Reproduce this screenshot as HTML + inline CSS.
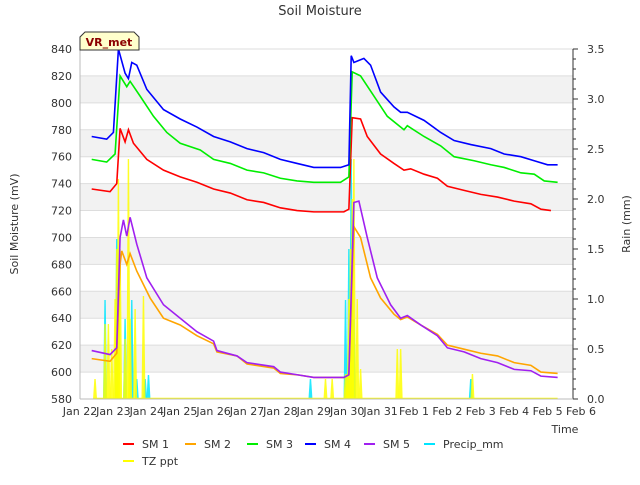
<!DOCTYPE html>
<html><head><meta charset="utf-8"><style>
body{margin:0;background:#fff;font-family:"Liberation Sans","DejaVu Sans",sans-serif}
svg text{font-family:"DejaVu Sans","Liberation Sans",sans-serif}
</style></head><body>
<svg id="c" width="640" height="480" xmlns="http://www.w3.org/2000/svg">
<text x="320" y="15" text-anchor="middle" font-size="13" fill="#333">Soil Moisture</text>
<g id="bands"></g><g id="grid"></g><g id="rain"></g><g id="lines"></g><g id="axes"></g>
<text transform="translate(18,224) rotate(-90)" text-anchor="middle" font-size="11" fill="#333">Soil Moisture (mV)</text>
<text transform="translate(630,224) rotate(-90)" text-anchor="middle" font-size="11" fill="#333">Rain (mm)</text>
<text x="565" y="433" text-anchor="middle" font-size="11" fill="#333">Time</text>
<g><path d="M80,50 L80,37 L85,32 L134,32 L139,37 L139,50 Z" fill="#ffffcc" stroke="#333"/><text x="109" y="46" text-anchor="middle" font-size="11" font-weight="bold" fill="#8b0000">VR_met</text></g>
<g id="legend"></g>
</svg>
<script>
const sm1=[[0.35,736],[0.9,734],[1.1,740],[1.2,781],[1.35,771],[1.45,780],[1.6,770],[2,758],[2.5,750],[3,745],[3.5,741],[4,736],[4.5,733],[5,728],[5.5,726],[6,722],[6.5,720],[7,719],[7.9,719],[8.05,721],[8.15,789],[8.4,788],[8.6,775],[9,762],[9.4,755],[9.7,750],[9.9,751],[10.3,747],[10.7,744],[11,738],[11.5,735],[12,732],[12.5,730],[13,727],[13.5,725],[13.8,721],[14.1,720]];
const sm2=[[0.35,610],[0.9,608],[1.1,614],[1.2,680],[1.25,690],[1.4,680],[1.5,688],[1.7,675],[2.1,655],[2.5,640],[3,635],[3.5,627],[4,621],[4.1,615],[4.7,612],[5,606],[5.8,603],[6,599],[6.5,598],[7,596],[7.9,596],[8.05,598],[8.2,708],[8.4,700],[8.7,670],[9,655],[9.4,643],[9.6,639],[9.8,641],[10.2,635],[10.7,628],[11,620],[11.5,617],[12,614],[12.5,612],[13,607],[13.5,605],[13.8,600],[14.3,599]];
const sm3=[[0.35,758],[0.8,756],[1.05,762],[1.2,820],[1.4,812],[1.5,816],[1.8,805],[2.2,790],[2.6,778],[3,770],[3.6,765],[4,758],[4.5,755],[5,750],[5.5,748],[6,744],[6.5,742],[7,741],[7.8,741],[8.05,745],[8.15,823],[8.4,820],[8.8,805],[9.2,790],[9.7,780],[9.8,783],[10.3,775],[10.8,768],[11.2,760],[11.8,757],[12.3,754],[12.7,752],[13.2,748],[13.6,747],[13.9,742],[14.3,741]];
const sm4=[[0.35,775],[0.8,773],[1.0,778],[1.15,840],[1.35,822],[1.45,818],[1.55,830],[1.7,828],[2,810],[2.5,795],[3,788],[3.5,782],[4,775],[4.5,771],[5,766],[5.5,763],[6,758],[6.5,755],[7,752],[7.8,752],[8.05,754],[8.12,835],[8.2,830],[8.4,832],[8.5,833],[8.7,828],[9,808],[9.4,797],[9.6,793],[9.8,793],[10.3,787],[10.8,778],[11.2,772],[11.7,769],[12.3,766],[12.7,762],[13.2,760],[13.6,757],[14,754],[14.3,754]];
const sm5=[[0.35,616],[0.9,613],[1.1,618],[1.2,700],[1.3,713],[1.4,701],[1.5,715],[1.7,695],[2,670],[2.5,650],[3,640],[3.5,630],[4,623],[4.1,616],[4.7,612],[5,607],[5.8,604],[6,600],[6.5,598],[7,596],[7.9,596],[8.05,598],[8.2,726],[8.35,727],[8.6,700],[8.9,670],[9.3,650],[9.6,640],[9.8,642],[10.2,635],[10.7,627],[11,618],[11.5,615],[12,610],[12.5,607],[13,602],[13.5,601],[13.8,597],[14.3,596]];
const tzppt=[[0.45,0.2],[0.75,0.75],[0.85,0.75],[0.95,0.5],[1.05,1.0],[1.1,1.5],[1.15,2.2],[1.2,1.5],[1.35,0.6],[1.45,2.4],[1.5,0.8],[1.65,0.9],[1.9,1.03],[7.35,0.2],[7.55,0.2],[7.95,0.25],[8.0,0.25],[8.05,1.0],[8.1,1.5],[8.15,2.0],[8.2,2.4],[8.3,1.0],[8.4,0.3],[9.5,0.5],[9.6,0.5],[11.75,0.25]];
const precip=[[0.75,0.99],[1.1,1.6],[1.35,0.8],[1.55,0.99],[1.7,0.2],[1.95,0.2],[2.05,0.24],[6.9,0.2],[7.95,0.99],[8.05,1.5],[8.12,2.4],[8.2,0.8],[11.7,0.2]];
const xLabels=["Jan 22","Jan 23","Jan 24","Jan 25","Jan 26","Jan 27","Jan 28","Jan 29","Jan 30","Jan 31","Feb 1","Feb 2","Feb 3","Feb 4","Feb 5","Feb 6"];
const yTicks=[580,600,620,640,660,680,700,720,740,760,780,800,820,840];
const y2Ticks=[0,0.5,1,1.5,2,2.5,3,3.5];
const L=80,R=573,T=49,B=399,NS="http://www.w3.org/2000/svg";
const X=d=>L+d*33.4, Y=v=>B-(v-580)/260*(B-T), Y2=v=>B-v/3.5*(B-T);
function mk(p,t,a){const e=document.createElementNS(NS,t);for(const k in a)e.setAttribute(k,a[k]);document.getElementById(p).appendChild(e);return e;}
for(let i=0;i<yTicks.length-1;i++){if(i%2==1){const r=mk('bands','rect',{x:L,y:Y(yTicks[i+1]),width:R-L,height:Y(yTicks[i])-Y(yTicks[i+1]),fill:'#f2f2f2'});

}}
yTicks.forEach(v=>{const g=mk('grid','line',{x1:L,x2:R,y1:Y(v),y2:Y(v),stroke:'#ddd'});


const t=mk('axes','text',{x:L-8,y:Y(v)+4,'text-anchor':'end','font-size':11,fill:'#333'});t.textContent=v;

});
y2Ticks.forEach(v=>{const t=mk('axes','text',{x:R+14,y:Y2(v)+4,'font-size':11,fill:'#333'});t.textContent=v.toFixed(1);


mk('axes','line',{x1:R,x2:R+5,y1:Y2(v),y2:Y2(v),stroke:'#333'});});
for(let v=0.1;v<3.5;v+=0.1)mk('axes','line',{x1:R,x2:R+3,y1:Y2(v),y2:Y2(v),stroke:'#333'});
xLabels.forEach((s,i)=>{const t=mk('axes','text',{x:X(i),y:B+16,'text-anchor':'middle','font-size':11,fill:'#333'});t.textContent=s;

});
mk('axes','line',{x1:L,x2:L,y1:T,y2:B,stroke:'#bbb'});mk('axes','line',{x1:R,x2:R,y1:T,y2:B,stroke:'#333'});mk('axes','line',{x1:L,x2:R,y1:B,y2:B,stroke:'#bbb'});
function spikes(arr,col,name){arr.forEach(([d,v])=>{const e=mk('rain','path',{d:`M${X(d)-2},${B} L${X(d)-0.7},${Y2(v)} L${X(d)+0.7},${Y2(v)} L${X(d)+2},${B}`,fill:col,'fill-opacity':0.85});

});}
spikes(precip,'#00e5ff','precip-bar');spikes(tzppt,'#ffff00','tz-ppt-bar');
mk('rain','line',{x1:X(0.4),x2:X(14.3),y1:B-0.5,y2:B-0.5,stroke:'#ffff00','stroke-width':1.5});
function line(arr,col,name){const p=mk('lines','polyline',{points:arr.map(([d,v])=>X(d)+','+Y(v)).join(' '),fill:'none',stroke:col,'stroke-width':1.6});

}
line(sm2,'#ffa500','sm2-line');line(sm5,'#a020f0','sm5-line');line(sm1,'#ff0000','sm1-line');line(sm3,'#00ee00','sm3-line');line(sm4,'#0000ff','sm4-line');
const leg=[["SM 1","#ff0000",123,444],["SM 2","#ffa500",185,444],["SM 3","#00ee00",247,444],["SM 4","#0000ff",305,444],["SM 5","#a020f0",364,444],["Precip_mm","#00e5ff",424,444],["TZ ppt","#ffff00",123,461]];
leg.forEach(([s,c,x,y])=>{const g=mk('legend','g',{});


const l=document.createElementNS(NS,'line');l.setAttribute('x1',x);l.setAttribute('x2',x+11);l.setAttribute('y1',y);l.setAttribute('y2',y);l.setAttribute('stroke',c);l.setAttribute('stroke-width',2);g.appendChild(l);
const t=document.createElementNS(NS,'text');t.setAttribute('x',x+19);t.setAttribute('y',y+4);t.setAttribute('font-size',11);t.setAttribute('fill','#333');t.textContent=s;g.appendChild(t);});
</script>
</body></html>
